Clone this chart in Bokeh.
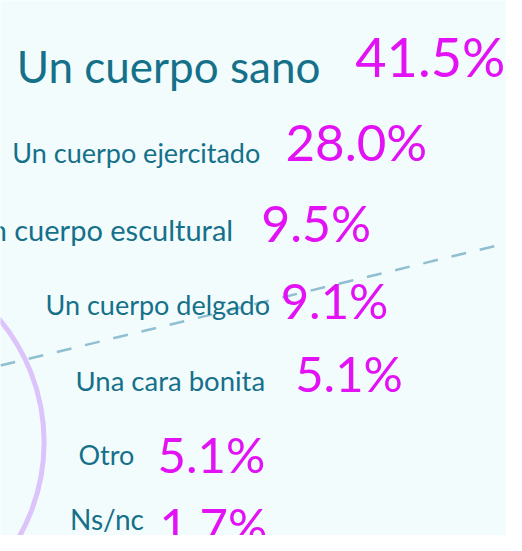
from bokeh.plotting import figure
from bokeh.models import Range1d, ColumnDataSource
from bokeh.core.properties import value
from bokeh.embed import file_html
from bokeh.resources import INLINE

# ---- data ----
categories = ["Un cuerpo sano", "Un cuerpo ejercitado", "Un cuerpo escultural",
              "Un cuerpo delgado", "Una cara bonita", "Otro", "Ns/nc"]
percentages = [41.5, 28.0, 9.5, 9.1, 5.1, 5.1, 1.7]
pct_labels = [f"{v:.1f}%" for v in percentages]

# ---- layout (reference-pixel coordinates, 522 x 551 space) ----
label_right = [330, 268, 240, 278, 273, 138, 148]
label_mid = [67.5, 157, 236, 313.5, 391, 468, 533.5]
label_size = ["44px", "27px", "29px", "27px", "27.5px", "27px", "28px"]
num_left = [366, 294, 269, 289, 304, 162, 164]
num_mid = [58, 145, 229, 308, 384, 467.5, 540.5]
num_size = ["54px", "51px", "50px", "49px", "49px", "49px", "49px"]

BG = "#f2fcfd"
TEAL = "#15708a"
MAGENTA = "#e212f5"
FONT = "Lato"

W, H = 506, 535
p = figure(width=W, height=H, output_backend="svg", toolbar_location=None,
           x_range=Range1d(0, 522), y_range=Range1d(551, 0),
           min_border=0, background_fill_color=BG, border_fill_color=BG)
p.axis.visible = False
p.grid.visible = False
p.outline_line_color = None

# decorative dashed line and arc
p.line(x=[0, 522], y=[376, 250], line_color="#8fbfd0", line_width=2.5,
       line_dash="15 14")
p.ellipse(x=-152, y=455, width=394, height=394, fill_alpha=0,
          line_color="#dcc4fb", line_width=5)

src = ColumnDataSource(dict(cat=categories, pct=pct_labels,
                            lx=label_right, ly=label_mid, ls=label_size,
                            nx=num_left, ny=num_mid, ns=num_size))

p.text(x="lx", y="ly", text="cat", source=src, text_align="right",
       text_baseline="middle", text_color=TEAL,
       text_font=value(FONT), text_font_size="ls")
p.text(x="nx", y="ny", text="pct", source=src, text_align="left",
       text_baseline="middle", text_color=MAGENTA,
       text_font=value(FONT), text_font_size="ns")

open("out.html", "w").write(file_html(p, INLINE))
